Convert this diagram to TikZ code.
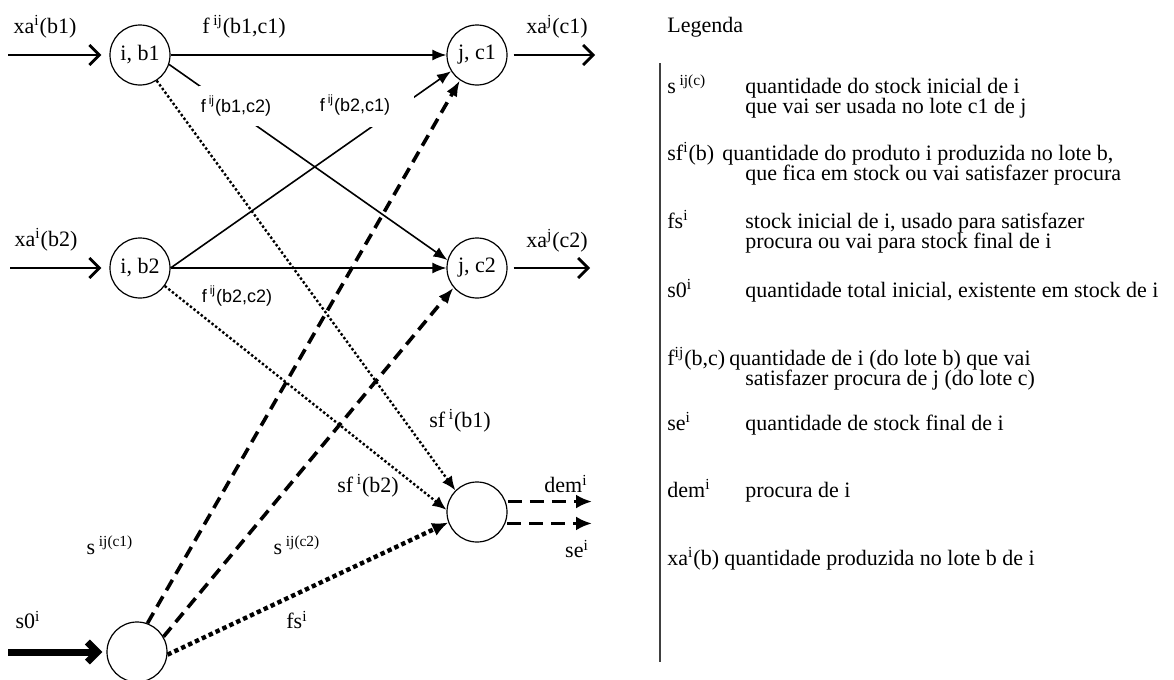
\documentclass[tikz,border=0pt]{standalone}
\usepackage{fontspec}
\setmainfont{Liberation Serif}
\setsansfont{Liberation Sans}
\usetikzlibrary{arrows.meta,positioning,calc}
\tikzset{
  flow/node/.style={draw, circle, semithick, minimum size=30pt, inner sep=0pt, font=\fontsize{11}{12}\selectfont},
  flow/lbl/.style={font=\fontsize{11}{12}\selectfont, inner sep=1pt},
  flow/slbl/.style={font=\sffamily\fontsize{9}{10}\selectfont, inner sep=1pt},
  flow/gap/.style={fill=white, inner sep=0pt},
  flow/in/.style={line width=1.4pt, shorten >=4pt, -{Straight Barb[length=5pt,width=10pt]}},
  flow/out/.style={line width=1.4pt, shorten <=3pt, -{Straight Barb[length=5pt,width=10pt]}},
  flow/arc/.style={line width=0.8pt, -{Latex[length=7pt,width=5.5pt]}},
  flow/dash/.style={line width=1.8pt, dash pattern=on 6pt off 3.5pt, -{Latex[length=8pt,width=6pt]}},
  flow/dot/.style={line width=1.2pt, dash pattern=on 1.2pt off 1.1pt, -{Latex[length=7pt,width=6pt]}},
  flow/fatdot/.style={line width=2.2pt, dash pattern=on 2.2pt off 1.6pt, -{Latex[length=8pt,width=7pt]}},
  flow/dem/.style={line width=1.6pt, dash pattern=on 7pt off 4pt, shorten <=1pt, -{Latex[length=8pt,width=7pt]}},
  flow/leg/.style={font=\fontsize{11}{12}\selectfont, inner sep=0pt, anchor=base west}
}

\begin{document}
\begin{tikzpicture}[x=0.5pt, y=-0.5pt]
  \useasboundingbox (0,0) rectangle (1174,680);
  \clip (0,0) rectangle (1174,680);

  % lots and stock nodes
  \node[flow/node] (ib1) at (140,55) {i, b1};
  \node[flow/node] (jc1) at (477,55) {j, c1};
  \node[flow/node] (ib2) at (140,268) {i, b2};
  \node[flow/node] (jc2) at (477,268) {j, c2};
  \node[flow/node] (dm) at (477,512) {};
  \node[flow/node] (s0n) at (137,652) {};

  \coordinate (xb1) at (8,55);
  \coordinate (xb2) at (10,268);
  \coordinate (xs0) at (8,652);
  \coordinate (yc1) at (595,55);
  \coordinate (yc2) at (590,268);
  \coordinate (yend) at (592,0);

  % inputs and outputs
  \draw[flow/in] (xb1) -- (ib1);
  \draw[flow/in] (xb2) -- (ib2);
  \draw[flow/in, line width=3.5pt, shorten >=2pt] (xs0) -- (s0n);
  \draw[flow/out] (jc1) -- (yc1);
  \draw[flow/out] (jc2) -- (yc2);
  \draw[flow/dem] (dm.20) -- (dm.20 -| yend);
  \draw[flow/dem] (dm.-22) -- (dm.-22 -| yend);

  % flows between lots
  \draw[flow/arc] (ib1) -- (jc1);
  \draw[flow/arc] (ib1.-18) -- (jc2.165);
  \draw[flow/arc] (ib2.east) -- (jc1.212);
  \draw[flow/arc] (ib2) -- (jc2);
  \draw[flow/dot] (ib1.-57) -- (dm.135);
  \draw[flow/dot] (ib2.-36) -- (dm.176);
  \draw[flow/fatdot] (s0n.-5) -- (dm.200);
  \draw[flow/dash] (s0n.70) -- (jc1.236);
  \draw[flow/dash] (s0n.30) -- (jc2.220);

  % labels
  \node[flow/lbl] (lxb1) at (45,27) {xa\textsuperscript{i}(b1)};
  \node[flow/lbl] (lxb2) at (46,240) {xa\textsuperscript{i}(b2)};
  \node[flow/lbl] (lyc1) at (557,27) {xa\textsuperscript{j}(c1)};
  \node[flow/lbl] (lyc2) at (557,241) {xa\textsuperscript{j}(c2)};
  \node[flow/lbl] (lf11) at (244,27) {f\,\textsuperscript{ij}(b1,c1)};
  \node[flow/slbl, fill=white, minimum height=20pt] (lf12) at (236,106) {f\,\textsuperscript{ij}(b1,c2)};
  \node[flow/gap, minimum width=22pt, minimum height=16pt] (g21) at (392,111) {};
  \node[flow/slbl] (lf21) at (355,105) {f\,\textsuperscript{ij}(b2,c1)};
  \node[flow/slbl] (lf22) at (237,296) {f\,\textsuperscript{ij}(b2,c2)};
  \node[flow/lbl] (lsf1) at (460,421) {sf\,\textsuperscript{i}(b1)};
  \node[flow/lbl] (lsf2) at (368,486) {sf\,\textsuperscript{i}(b2)};
  \node[flow/lbl] (ldem) at (566,484) {dem\textsuperscript{i}};
  \node[flow/lbl] (lse) at (577,549) {se\textsuperscript{i}};
  \node[flow/lbl] (ls1) at (110,545) {s\,\textsuperscript{ij(c1)}};
  \node[flow/lbl] (ls2) at (297,545) {s\,\textsuperscript{ij(c2)}};
  \node[flow/lbl] (lfs) at (297,620) {fs\textsuperscript{i}};
  \node[flow/lbl] (ls0) at (28,620) {s0\textsuperscript{i}};

  % legend
  \node[flow/leg, anchor=west] (leg) at (667,27) {Legenda};
  \draw[line width=1.2pt, black!75] (660,63) -- (660,662);
  \node[flow/leg] (l1s) at (667,93) {s\,\textsuperscript{ij(c)}};
  \node[flow/leg] (l1a) at (745,93) {quantidade do stock inicial de i};
  \node[flow/leg] (l1b) at (745,113) {que vai ser usada no lote c1 de j};
  \node[flow/leg] (l2s) at (667,160) {sf\textsuperscript{i}(b)};
  \node[flow/leg] (l2a) at (722,160) {quantidade do produto i produzida no lote b,};
  \node[flow/leg] (l2b) at (745,180) {que fica em stock ou vai satisfazer procura};
  \node[flow/leg] (l3s) at (667,228) {fs\textsuperscript{i}};
  \node[flow/leg] (l3a) at (745,228) {stock inicial de i, usado para satisfazer};
  \node[flow/leg] (l3b) at (745,248) {procura ou vai para stock final de i};
  \node[flow/leg] (l4s) at (667,297) {s0\textsuperscript{i}};
  \node[flow/leg] (l4a) at (745,297) {quantidade total inicial, existente em stock de i};
  \node[flow/leg] (l5s) at (667,365) {f\textsuperscript{ij}(b,c)};
  \node[flow/leg] (l5a) at (729,365) {quantidade de i (do lote b) que vai};
  \node[flow/leg] (l5b) at (745,385) {satisfazer procura de j (do lote c)};
  \node[flow/leg] (l6s) at (667,430) {se\textsuperscript{i}};
  \node[flow/leg] (l6a) at (745,430) {quantidade de stock final de i};
  \node[flow/leg] (l7s) at (667,497) {dem\textsuperscript{i}};
  \node[flow/leg] (l7a) at (745,497) {procura de i};
  \node[flow/leg] (l8s) at (667,565) {xa\textsuperscript{i}(b)};
  \node[flow/leg] (l8a) at (724,565) {quantidade produzida no lote b de i};
\end{tikzpicture}
\end{document}
